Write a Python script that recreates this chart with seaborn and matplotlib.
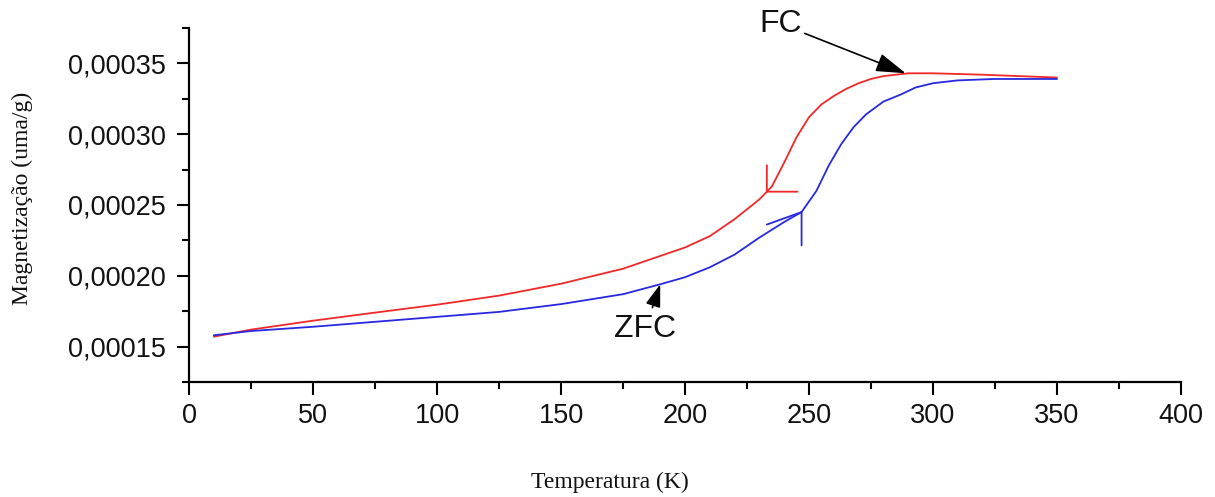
import numpy as np
import pandas as pd
import matplotlib
matplotlib.use("Agg")
import matplotlib.pyplot as plt
import seaborn as sns
from matplotlib.ticker import FixedLocator, MultipleLocator

# ---- data ----
fc_T = [10, 25, 50, 75, 100, 125, 150, 175, 200, 210, 220, 230, 235, 240, 245,
        250, 255, 260, 265, 270, 275, 280, 285, 290, 300, 320, 350]
fc_M = [0.000157, 0.000162, 0.0001683, 0.000174, 0.0001796, 0.000186, 0.0001944,
        0.000205, 0.000220, 0.000228, 0.000240, 0.000254, 0.000263, 0.000280,
        0.000298, 0.000312, 0.000321, 0.000327, 0.000332, 0.000336, 0.000339,
        0.000341, 0.000342, 0.000343, 0.000343, 0.000342, 0.000340]

zfc_T = [10, 25, 50, 75, 100, 125, 150, 175, 190, 200, 210, 220, 230, 240, 247,
         253, 258, 263, 268, 273, 280, 287, 293, 300, 310, 325, 350]
zfc_M = [0.000158, 0.000161, 0.000164, 0.0001675, 0.000171, 0.0001745, 0.000180,
         0.000187, 0.000194, 0.000199, 0.000206, 0.000215, 0.000227, 0.000238,
         0.000245, 0.000260, 0.000278, 0.000293, 0.000305, 0.000314, 0.000323,
         0.000328, 0.000333, 0.000336, 0.000338, 0.000339, 0.000339]

x_ticks = [0, 50, 100, 150, 200, 250, 300, 350, 400]
y_ticks = [0.00015, 0.00020, 0.00025, 0.00030, 0.00035]
y_tick_labels = ["0,00015", "0,00020", "0,00025", "0,00030", "0,00035"]

red = "#f02828"
blue = "#2828e0"

sns.set_style("white")
plt.rcParams["font.family"] = ["Liberation Sans", "DejaVu Sans"]
plt.rcParams["text.color"] = "#111111"

fig = plt.figure(figsize=(12.15, 4.97), dpi=100)
ax = fig.add_axes([0.1556, 0.2314, 0.8164, 0.7123])

df_fc = pd.DataFrame({"T": fc_T, "M": fc_M})
df_zfc = pd.DataFrame({"T": zfc_T, "M": zfc_M})
sns.lineplot(data=df_fc, x="T", y="M", ax=ax, color=red, lw=1.3)
sns.lineplot(data=df_zfc, x="T", y="M", ax=ax, color=blue, lw=1.3)

ax.set_xlim(0, 400)
ax.set_ylim(0.000125, 0.000375)

ax.xaxis.set_major_locator(FixedLocator(x_ticks))
ax.xaxis.set_minor_locator(MultipleLocator(25))
ax.set_xticklabels([str(v) for v in x_ticks])
ax.yaxis.set_major_locator(FixedLocator(y_ticks))
ax.yaxis.set_minor_locator(MultipleLocator(0.000025))
ax.set_yticklabels(y_tick_labels)

for s in ["top", "right"]:
    ax.spines[s].set_visible(False)
for s in ["left", "bottom"]:
    ax.spines[s].set_linewidth(1.6)
    ax.spines[s].set_color("black")

ax.tick_params(axis="both", which="major", direction="out", length=9, width=1.5,
               colors="black", labelcolor="#111111", labelsize=19.5, left=True, bottom=True)
ax.tick_params(axis="both", which="minor", direction="out", length=5, width=1.5,
               colors="black", left=True, bottom=True)
ax.tick_params(axis="x", pad=6)
ax.tick_params(axis="y", pad=8)

ax.set_xlabel("Temperatura (K)", family=["Liberation Serif", "DejaVu Serif"],
              fontsize=17, color="#111111")
ax.set_ylabel("Magnetização (uma/g)", family=["Liberation Serif", "DejaVu Serif"],
              fontsize=17, color="#111111")
ax.xaxis.set_label_coords(0.424, -0.255)
ax.yaxis.set_label_coords(-0.157, 0.52)

# direction arrow heads drawn on the curves
tip_fc = (233, float(np.interp(233, fc_T, fc_M)))
for off in [(0, 19), (22, 0)]:
    ax.annotate("", xy=tip_fc, xytext=off, textcoords="offset points",
                arrowprops=dict(arrowstyle="-", color=red, lw=1.3, shrinkA=0, shrinkB=0))
tip_zfc = (247, float(np.interp(247, zfc_T, zfc_M)))
for off in [(-25, -9), (0, -24)]:
    ax.annotate("", xy=tip_zfc, xytext=off, textcoords="offset points",
                arrowprops=dict(arrowstyle="-", color=blue, lw=1.3, shrinkA=0, shrinkB=0))

# labels FC / ZFC
ax.annotate("FC", xy=(289, 0.000343), xytext=(247, 0.000378),
            ha="right", va="center", fontsize=23, annotation_clip=False,
            arrowprops=dict(arrowstyle="-|>,head_length=0.8,head_width=0.25",
                            color="black", lw=1.2, shrinkA=0, shrinkB=0))
ax.annotate("ZFC", xy=(190, 0.000194), xytext=(184, 0.0001627),
            ha="center", va="center", fontsize=23,
            arrowprops=dict(arrowstyle="-|>,head_length=0.6,head_width=0.2",
                            color="black", lw=1.2, shrinkA=2, shrinkB=0))

fig.savefig("out.png", dpi=100)
